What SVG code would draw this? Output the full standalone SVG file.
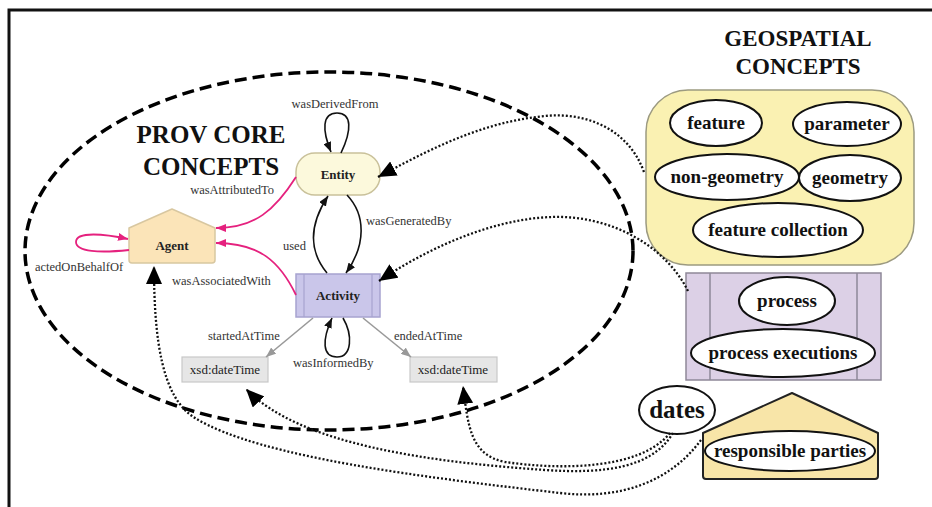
<svg xmlns="http://www.w3.org/2000/svg" width="932" height="507" viewBox="0 0 932 507">
<defs>
<style>
.lbl{font-family:"Liberation Serif","Times New Roman",serif;font-size:12.5px;fill:#333}
.nlbl{font-family:"Liberation Serif","Times New Roman",serif;font-size:13px;font-weight:bold;fill:#222;text-anchor:middle}
.big{font-family:"Liberation Serif","Times New Roman",serif;font-weight:bold;fill:#111;text-anchor:middle}
.geo{font-family:"Liberation Serif","Times New Roman",serif;font-size:19px;font-weight:bold;fill:#111;text-anchor:middle}
.oval{fill:#fff;stroke:#111;stroke-width:2}
.pink{fill:none;stroke:#e5217e;stroke-width:1.8}
.blk{fill:none;stroke:#111;stroke-width:1.6}
.gry{fill:none;stroke:#999;stroke-width:1.6}
.dot{fill:none;stroke:#111;stroke-width:2.3;stroke-dasharray:2 2}
</style>
<marker id="mPink" markerUnits="userSpaceOnUse" markerWidth="10" markerHeight="8" refX="10" refY="4" orient="auto"><path d="M0,0 L10,4 L0,8 z" fill="#e5217e"/></marker>
<marker id="mBlk" markerUnits="userSpaceOnUse" markerWidth="10" markerHeight="8" refX="10" refY="4" orient="auto"><path d="M0,0 L10,4 L0,8 z" fill="#111"/></marker>
<marker id="mGry" markerUnits="userSpaceOnUse" markerWidth="10" markerHeight="8" refX="10" refY="4" orient="auto"><path d="M0,0 L10,4 L0,8 z" fill="#999"/></marker>
<marker id="mBig" markerUnits="userSpaceOnUse" markerWidth="18" markerHeight="16" refX="18" refY="8" orient="auto"><path d="M0,0 L18,8 L0,16 z" fill="#000"/></marker>
</defs>
<rect width="932" height="507" fill="#fff"/>
<g id="frame"><path d="M9,507 L9,10 L932,10" fill="none" stroke="#111" stroke-width="3"/></g>

<g id="prov-core">
<ellipse cx="329" cy="251" rx="304" ry="179" fill="none" stroke="#000" stroke-width="3.5" stroke-dasharray="12 6"/>
<text class="big" font-size="25" x="211" y="143">PROV CORE</text>
<text class="big" font-size="25" x="211" y="175">CONCEPTS</text>
</g>

<g id="geospatial">
<text class="big" font-size="23" x="798" y="46">GEOSPATIAL</text>
<text class="big" font-size="23" x="798" y="74">CONCEPTS</text>
<rect x="646" y="90" width="268" height="175" rx="42" fill="#faf1b2" stroke="#9c9a80" stroke-width="1.5"/>
</g>
<g id="feature"><ellipse class="oval" cx="716" cy="123" rx="46" ry="23"/><text class="geo" x="716" y="129">feature</text></g>
<g id="parameter"><ellipse class="oval" cx="847" cy="124" rx="54" ry="22"/><text class="geo" x="847" y="130">parameter</text></g>
<g id="non-geometry"><ellipse class="oval" cx="727" cy="177" rx="72" ry="23"/><text class="geo" x="727" y="183">non-geometry</text></g>
<g id="geometry"><ellipse class="oval" cx="850" cy="178" rx="51" ry="23"/><text class="geo" x="850" y="184">geometry</text></g>
<g id="feature-collection"><ellipse class="oval" cx="778" cy="230" rx="85" ry="27"/><text class="geo" x="778" y="236">feature collection</text></g>

<g id="process-box">
<rect x="686" y="273" width="195" height="107" fill="#dcd0e6" stroke="#8e8898" stroke-width="1.5"/>
<line x1="710" y1="273" x2="710" y2="380" stroke="#8e8898" stroke-width="1.5"/>
<line x1="857" y1="273" x2="857" y2="380" stroke="#8e8898" stroke-width="1.5"/>
</g>
<g id="process"><ellipse class="oval" cx="787" cy="301" rx="48" ry="24"/><text class="geo" x="787" y="307">process</text></g>
<g id="process-executions"><ellipse class="oval" cx="783" cy="353" rx="92" ry="24"/><text class="geo" x="783" y="359">process executions</text></g>

<g id="dates"><ellipse class="oval" cx="677" cy="410" rx="38" ry="24"/><text class="big" font-size="25" x="677" y="418">dates</text></g>

<g id="responsible-parties">
<path d="M703,433 L792,393 L878,433 L878,476 Q878,479 875,479 L706,479 Q703,479 703,476 Z" fill="#f8e5a8" stroke="#222" stroke-width="2" stroke-linejoin="round"/>
<ellipse class="oval" cx="790" cy="451" rx="85" ry="20"/>
<text class="geo" x="790" y="457">responsible parties</text>
</g>

<g id="entity"><rect x="296" y="153" width="84" height="42" rx="19" fill="#fcf9dc" stroke="#c9c19a" stroke-width="1.5"/><text class="nlbl" x="338" y="179">Entity</text></g>
<g id="agent"><path d="M129,228 L172,209 L215,228 L215,260 Q215,263 212,263 L132,263 Q129,263 129,260 Z" fill="#fbe4b8" stroke="#d8c7a0" stroke-width="1.5" stroke-linejoin="round"/><text class="nlbl" x="172" y="250">Agent</text></g>
<g id="activity"><rect x="296" y="274" width="84" height="43" fill="#cac6ea" stroke="#a7a3cf" stroke-width="1.5"/><line x1="304" y1="274" x2="304" y2="317" stroke="#a7a3cf" stroke-width="1.2"/><line x1="372" y1="274" x2="372" y2="317" stroke="#a7a3cf" stroke-width="1.2"/><text class="nlbl" x="338" y="300">Activity</text></g>
<g id="xsd-start"><rect x="182" y="357" width="86" height="25" fill="#e6e6e6" stroke="#c8c8c8" stroke-width="1.2"/><text class="nlbl" font-weight="normal" style="font-weight:normal" font-size="12" x="225" y="374">xsd:dateTime</text></g>
<g id="xsd-end"><rect x="410" y="357" width="87" height="25" fill="#e6e6e6" stroke="#c8c8c8" stroke-width="1.2"/><text class="nlbl" style="font-weight:normal" x="453" y="374">xsd:dateTime</text></g>

<g id="connectors">
<path class="pink" d="M296,177 C 275,210 255,228 216,228" marker-end="url(#mPink)"/>
<path class="pink" d="M296,295 C 280,262 260,243 216,243" marker-end="url(#mPink)"/>
<path class="pink" d="M129,250 C 100,253 76,252 76,242 C 76,231 105,234 128,239" marker-end="url(#mPink)"/>
<path class="blk" d="M341,153 C 352,130 352,113 337,113 C 322,113 322,130 331,152" marker-end="url(#mBlk)"/>
<path class="blk" d="M347,195 C 366,215 366,245 346,273" marker-end="url(#mBlk)"/>
<path class="blk" d="M327,273 C 308,250 309,225 328,196" marker-end="url(#mBlk)"/>
<path class="blk" d="M343,318 C 353,335 352,357 337,357 C 322,357 322,340 332,318" marker-end="url(#mBlk)"/>
<path class="gry" d="M313,318 L266,357" marker-end="url(#mGry)"/>
<path class="gry" d="M363,318 L411,357" marker-end="url(#mGry)"/>

<path class="dot" d="M644,172 C 628,128 585,112 545,116 C 480,122 425,152 378,177" marker-end="url(#mBig)"/>
<path class="dot" d="M688,291 C 665,245 610,215 552,217 C 490,219 425,250 379,281" marker-end="url(#mBig)"/>
<path class="dot" d="M701,440 C 670,482 620,500 560,493 C 430,478 260,458 195,418 C 162,398 154,340 154,266" marker-end="url(#mBig)"/>
<path class="dot" d="M673,433 C 652,468 605,474 545,470 C 430,462 300,445 246,389" marker-end="url(#mBig)"/>
<path class="dot" d="M670,433 C 640,470 560,470 505,462 C 470,455 468,425 463,386" marker-end="url(#mBig)"/>

<text class="lbl" x="335" y="108" text-anchor="middle">wasDerivedFrom</text>
<text class="lbl" x="274" y="194" text-anchor="end">wasAttributedTo</text>
<text class="lbl" x="366" y="225">wasGeneratedBy</text>
<text class="lbl" x="283" y="250">used</text>
<text class="lbl" x="35" y="271">actedOnBehalfOf</text>
<text class="lbl" x="172" y="285">wasAssociatedWith</text>
<text class="lbl" x="208" y="340">startedAtTime</text>
<text class="lbl" x="293" y="367">wasInformedBy</text>
<text class="lbl" x="394" y="340">endedAtTime</text>
</g>
</svg>
